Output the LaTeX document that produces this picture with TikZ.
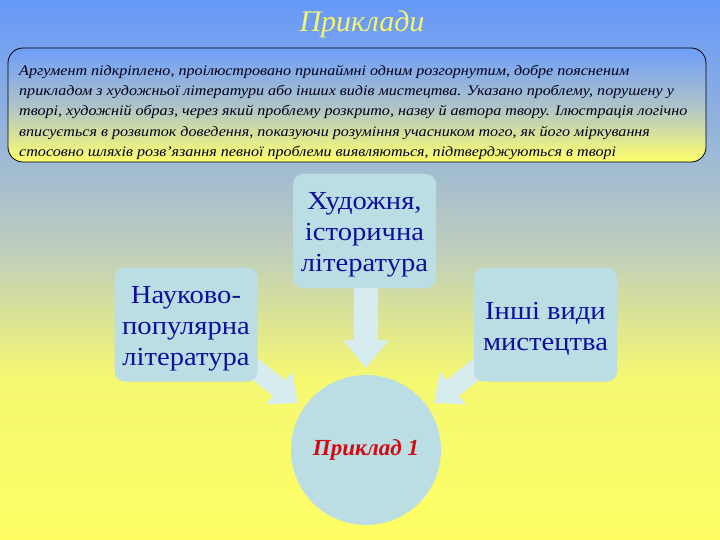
\documentclass[tikz,border=0pt]{standalone}
\usepackage{fontspec}
\setmainfont{Liberation Serif}
\newfontfamily\boxfont[FakeStretch=1.1]{Liberation Serif}
\newfontfamily\parafont[FakeStretch=1.11]{Liberation Serif}
\usetikzlibrary{arrows.meta}
\definecolor{bgtop}{RGB}{102,152,250}
\definecolor{bgmid}{RGB}{190,205,190}
\definecolor{bgbot}{RGB}{255,255,100}
\definecolor{boxfill}{RGB}{186,222,228}
\definecolor{boxtext}{RGB}{15,15,155}
\definecolor{arrowfill}{RGB}{214,236,238}
\definecolor{titlecol}{RGB}{245,245,110}
\definecolor{redtxt}{RGB}{210,10,20}
\pgfdeclarelayer{bglayer}
\pgfdeclarelayer{arrowlayer}
\pgfsetlayers{bglayer,arrowlayer,main}
\pgfdeclareverticalshading{bgshade}{100bp}{color(0bp)=(bgbot); color(25bp)=(bgbot); color(40bp)=(bgbot!85!bgmid); color(52bp)=(bgmid); color(75bp)=(bgtop); color(100bp)=(bgtop)}
\tikzset{
  catbox/.style={draw=none, fill=boxfill, rounded corners=10pt,
    inner sep=0pt, minimum width=143pt, minimum height=114pt},
  cattext/.style={text=boxtext, font=\boxfont\fontsize{26}{31}\selectfont, align=center, inner sep=0pt},
  fatarrow/.style={draw=arrowfill, line width=24pt,
    -{Triangle[width=44pt,length=28pt]}},
  slantarrow/.style={draw=arrowfill, line width=20pt,
    -{Triangle[width=40pt,length=24pt]}},
  examplecircle/.style={circle, fill=boxfill, minimum size=150pt, inner sep=0pt,
    text=redtxt, font=\fontsize{23}{28}\selectfont\bfseries\itshape},
  infobox/.style={draw=black, line width=0.8pt, rounded corners=15pt,
    top color=bgtop!95!white, bottom color=bgbot!95!white, middle color=bgmid!80!bgtop},
}
\begin{document}
\begin{tikzpicture}[x=1pt,y=-1pt]
\useasboundingbox (0,0) rectangle (720,540);
\begin{pgfonlayer}{bglayer}
\shade[shading=bgshade] (0,0) rectangle (720,540);
\end{pgfonlayer}
% title
\node[text=titlecol, font=\fontsize{30}{34}\selectfont\itshape] (title) at (362,24) {Приклади};
% info box
\draw[infobox] (8,48) rectangle (706,162);
\node[anchor=north west, align=left, inner sep=0pt, text=black!90!blue,
  font=\parafont\fontsize{14.5}{20.2}\selectfont\itshape] (info) at (19,65)
 {Аргумент підкріплено, проілюстровано принаймні одним розгорнутим, добре поясненим\\
  прикладом з художньої літератури або інших видів мистецтва. Указано проблему, порушену у\\
  творі, художній образ, через який проблему розкрито, назву й автора твору. Ілюстрація логічно\\
  вписується в розвиток доведення, показуючи розуміння учасником того, як його міркування\\
  стосовно шляхів розв’язання певної проблеми виявляються, підтверджуються в творі};
% category boxes
\node[catbox] (art) at (364.5,231) {};
\node[cattext] (arttext) at ([yshift=-4pt]art.center) {Художня,\\історична\\література};
\node[catbox] (sci) at (186,324.5) {};
\node[cattext] (scitext) at ([yshift=-4pt]sci.center) {Науково-\\популярна\\література};
\node[catbox] (other) at (545.5,324.5) {};
\node[cattext] (othertext) at ([yshift=-4pt]other.center) {Інші види\\мистецтва};
% example circle
\node[examplecircle] (ex) at (366,450) {Приклад 1};
% arrows
\coordinate (ltip) at (298,403);
\coordinate (rtip) at (434,403);
\coordinate (dtip) at (366,368);
\begin{pgfonlayer}{arrowlayer}
\draw[fatarrow] (art.south -| dtip) -- (dtip);
\draw[slantarrow] ([shift={(-12,-20)}]sci.south east) -- (ltip);
\draw[slantarrow] ([shift={(12,-20)}]other.south west) -- (rtip);
\end{pgfonlayer}
\end{tikzpicture}
\end{document}
